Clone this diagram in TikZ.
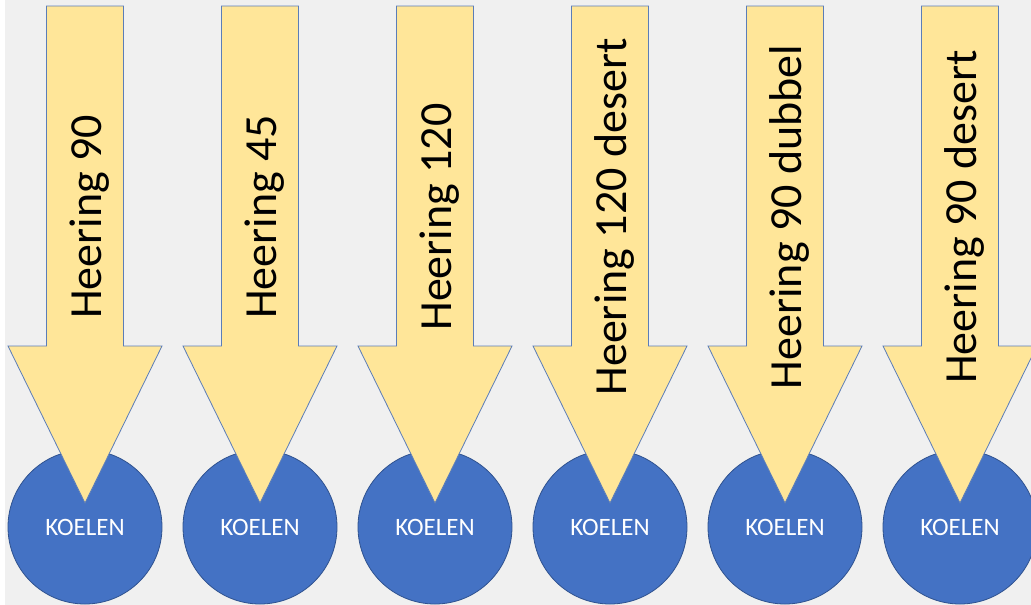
\documentclass[tikz,border=0pt]{standalone}
\usepackage{fontspec}
\setmainfont{Carlito}
\begin{document}
\begin{tikzpicture}[x=1pt,y=-1pt,
  arrowshape/.style={fill=arrowfill,draw=arrowline,line width=0.8pt,line join=miter},
  coolcircle/.style={circle,fill=circfill,draw=circline,line width=0.8pt,minimum size=154pt,inner sep=0pt,
    text=white,font=\fontsize{25}{30}\selectfont},
  arrowlabel/.style={rotate=90,anchor=base,inner sep=0pt,font=\fontsize{46}{55}\selectfont,text=black}]
\definecolor{bgc}{HTML}{F0F0F0}
\definecolor{arrowfill}{HTML}{FFE699}
\definecolor{arrowline}{HTML}{5B7DB8}
\definecolor{circfill}{HTML}{4472C4}
\definecolor{circline}{HTML}{2F528F}
\useasboundingbox (0,0) rectangle (1031,605);
\fill[bgc] (0,0) rectangle (1031,605);
\fill[white] (0,0) rectangle (5,605);
\clip (0,0) rectangle (1031,605);
\foreach \i/\cx/\lab in {1/85/Heering 90, 2/260/Heering 45, 3/435/Heering 120, 4/610/Heering 120 desert, 5/785/Heering 90 dubbel, 6/960/Heering 90 desert}{
  \node[coolcircle] (c\i) at (\cx,527) {KOELEN};
  \draw[arrowshape] (\cx-38.5,6) -- (\cx+38.5,6) -- (\cx+38.5,346) -- (\cx+77,346)
     -- (\cx,503) -- (\cx-77,346) -- (\cx-38.5,346) -- cycle;
  \node[arrowlabel] (t\i) at (\cx+16,217) {\lab};
}
\end{tikzpicture}
\end{document}
